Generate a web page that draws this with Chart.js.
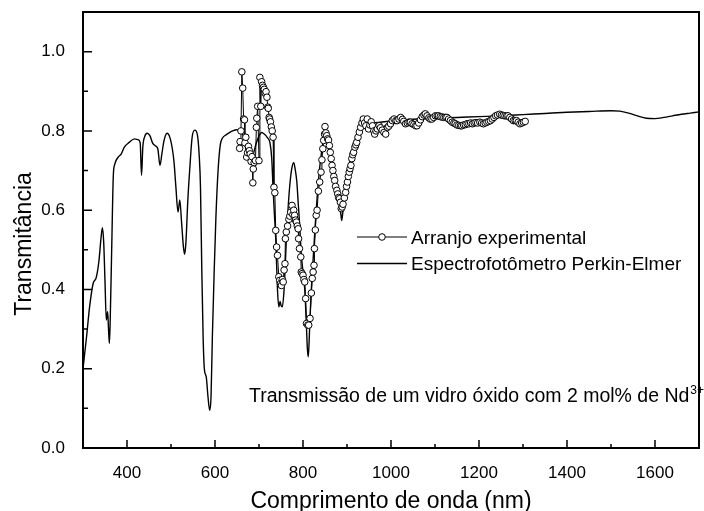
<!DOCTYPE html>
<html>
<head>
<meta charset="utf-8">
<script src="https://cdn.jsdelivr.net/npm/chart.js@4"></script>
<style>
  html, body { margin: 0; padding: 0; background: #fff; }
  #wrap { width: 704px; height: 511px; position: relative; }
</style>
</head>
<body>
<div id="wrap"><canvas id="chart"></canvas></div>
<script>
// Espectrofotômetro Perkin-Elmer (nm, transmitância)
const peNm = [300,308,315,323,330,336,341,344,347,350,353,356,358,360,362,365,369,372,375,381,387,394,405,417,425,430,433,436,440,446,452,458,465,470,475,479,484,491,497,503,507,511,516,520,524,528,531,534,538,543,548,554,560,564,567,570,573,576,580,584,588,591,594,598,602,607,612,617,625,632,640,650,657,663,667,672,677,683,688,694,700,706,712,719,725,729,732,735,738,742,745,748,750,753,757,760,763,767,771,775,779,782,786,789,792,796,800,804,807,810,812,815,818,822,826,830,834,838,842,846,849,853,857,862,866,871,875,879,883,886,888,891,894,898,902,906,910,915,920,926,932,940,950,960,975,1000,1030,1060,1100,1150,1200,1250,1300,1350,1400,1450,1500,1520,1540,1560,1580,1600,1620,1640,1660,1680,1700];
const peT = [0.20,0.28,0.356,0.415,0.43,0.47,0.53,0.556,0.52,0.42,0.323,0.344,0.30,0.264,0.33,0.49,0.69,0.715,0.725,0.735,0.742,0.759,0.771,0.78,0.778,0.77,0.688,0.76,0.785,0.794,0.788,0.77,0.762,0.755,0.713,0.74,0.775,0.794,0.785,0.755,0.72,0.66,0.595,0.626,0.57,0.51,0.489,0.52,0.62,0.71,0.784,0.802,0.79,0.74,0.658,0.45,0.28,0.197,0.18,0.13,0.095,0.13,0.28,0.44,0.58,0.70,0.765,0.782,0.79,0.795,0.80,0.803,0.80,0.79,0.77,0.745,0.73,0.725,0.745,0.77,0.787,0.796,0.792,0.783,0.77,0.73,0.654,0.59,0.528,0.40,0.356,0.37,0.36,0.356,0.40,0.47,0.545,0.62,0.675,0.708,0.72,0.705,0.671,0.62,0.57,0.49,0.444,0.40,0.33,0.25,0.23,0.30,0.38,0.457,0.53,0.60,0.66,0.708,0.745,0.775,0.784,0.775,0.76,0.738,0.71,0.675,0.65,0.633,0.61,0.59,0.574,0.60,0.625,0.66,0.695,0.72,0.745,0.765,0.784,0.80,0.81,0.815,0.818,0.82,0.822,0.825,0.828,0.83,0.832,0.834,0.836,0.838,0.841,0.844,0.847,0.849,0.851,0.85,0.845,0.838,0.832,0.831,0.834,0.838,0.842,0.845,0.848];

// Arranjo experimental (nm, transmitância)
const exNm = [656,657,659,661,663,665,667,668,670,672,674,676,678,680,682,684,686,687,689,692,694,695,697,700,702,704,706,708,710,712,714,716,718,720,721,723,724,726,728,730,732,734,736,738,740,742,745,747,749,751,753,755,757,759,760,762,765,768,770,772,775,777,779,781,783,785,787,789,790,792,795,796,798,800,802,804,806,808,811,813,816,819,821,823,825,826,828,830,832,835,838,841,843,845,847,849,850,852,854,856,858,860,862,864,866,868,870,872,874,877,879,881,883,885,887,889,891,894,897,899,901,903,905,907,909,911,913,915,918,920,922,925,928,931,934,937,940,943,946,949,952,955,958,961,963,966,969,973,976,980,984,988,992,995,999,1003,1007,1011,1014,1018,1022,1026,1029,1033,1037,1041,1044,1048,1052,1056,1059,1063,1067,1071,1075,1078,1082,1086,1089,1093,1097,1101,1105,1108,1112,1116,1120,1124,1127,1131,1135,1139,1143,1146,1150,1154,1158,1161,1165,1169,1173,1177,1181,1185,1189,1193,1197,1202,1206,1210,1214,1218,1222,1226,1230,1234,1238,1242,1247,1251,1255,1259,1263,1266,1270,1274,1278,1282,1285,1289,1293,1297,1301,1305];
const exT = [0.756,0.773,0.80,0.949,0.908,0.83,0.828,0.77,0.784,0.734,0.745,0.761,0.75,0.742,0.723,0.735,0.669,0.704,0.72,0.725,0.809,0.832,0.862,0.725,0.935,0.862,0.924,0.915,0.91,0.905,0.895,0.899,0.885,0.86,0.857,0.834,0.83,0.823,0.81,0.80,0.784,0.658,0.644,0.549,0.507,0.486,0.432,0.423,0.415,0.41,0.425,0.419,0.449,0.465,0.528,0.545,0.56,0.577,0.585,0.595,0.612,0.589,0.60,0.587,0.575,0.57,0.56,0.553,0.528,0.503,0.482,0.444,0.44,0.436,0.425,0.419,0.377,0.314,0.31,0.31,0.327,0.391,0.428,0.444,0.461,0.503,0.55,0.587,0.60,0.648,0.671,0.696,0.727,0.755,0.776,0.792,0.811,0.795,0.788,0.78,0.777,0.763,0.746,0.73,0.713,0.70,0.685,0.675,0.66,0.65,0.641,0.632,0.629,0.62,0.604,0.608,0.615,0.631,0.645,0.66,0.671,0.685,0.696,0.705,0.713,0.73,0.74,0.746,0.759,0.765,0.771,0.784,0.797,0.809,0.82,0.83,0.82,0.813,0.83,0.805,0.815,0.823,0.813,0.80,0.792,0.80,0.805,0.813,0.808,0.802,0.796,0.792,0.809,0.812,0.818,0.826,0.83,0.826,0.826,0.83,0.834,0.829,0.824,0.818,0.82,0.822,0.822,0.818,0.816,0.813,0.813,0.82,0.828,0.836,0.84,0.843,0.838,0.833,0.83,0.83,0.834,0.838,0.838,0.838,0.836,0.835,0.834,0.834,0.834,0.83,0.826,0.822,0.82,0.818,0.815,0.814,0.813,0.813,0.815,0.816,0.818,0.818,0.82,0.818,0.82,0.821,0.82,0.822,0.82,0.818,0.82,0.822,0.824,0.826,0.83,0.834,0.838,0.84,0.842,0.84,0.839,0.838,0.838,0.838,0.834,0.83,0.826,0.826,0.826,0.822,0.818,0.82,0.822,0.824];

const xTicks = [400, 600, 800, 1000, 1200, 1400, 1600];
const xMinor = [500, 700, 900, 1100, 1300, 1500];
const yTicks = [0, 0.2, 0.4, 0.6, 0.8, 1.0];
const yMinor = [0.1, 0.3, 0.5, 0.7, 0.9];

const FONT = "'Liberation Sans', Arial, sans-serif";
const toXY = (xs, ys) => xs.map((x, i) => ({ x: x, y: ys[i] }));

// frame, inward ticks, axis titles, legend and note
const decor = {
  id: 'decor',
  afterDraw(chart) {
    const ctx = chart.ctx;
    const a = chart.chartArea;
    const sx = chart.scales.x, sy = chart.scales.y;
    ctx.save();
    ctx.strokeStyle = '#000';
    ctx.lineWidth = 2;
    ctx.strokeRect(a.left, a.top, a.right - a.left, a.bottom - a.top);

    ctx.lineWidth = 1.5;
    ctx.beginPath();
    xTicks.forEach(v => { const p = sx.getPixelForValue(v); ctx.moveTo(p, a.bottom); ctx.lineTo(p, a.bottom - 8); });
    xMinor.forEach(v => { const p = sx.getPixelForValue(v); ctx.moveTo(p, a.bottom); ctx.lineTo(p, a.bottom - 4); });
    yTicks.forEach(v => { const p = sy.getPixelForValue(v); ctx.moveTo(a.left, p); ctx.lineTo(a.left + 9, p); });
    yMinor.forEach(v => { const p = sy.getPixelForValue(v); ctx.moveTo(a.left, p); ctx.lineTo(a.left + 5, p); });
    ctx.stroke();

    ctx.fillStyle = '#000';
    ctx.font = '23px ' + FONT;
    ctx.textAlign = 'center';
    ctx.textBaseline = 'alphabetic';
    ctx.fillText('Comprimento de onda (nm)', (a.left + a.right) / 2, 508);
    ctx.save();
    ctx.translate(31, 244);
    ctx.rotate(-Math.PI / 2);
    ctx.fillText('Transmitância', 0, 0);
    ctx.restore();

    // legend
    const ds = chart.data.datasets;
    ctx.textAlign = 'left';
    ctx.font = '19px ' + FONT;
    ctx.lineWidth = 1;
    ctx.beginPath();
    ctx.moveTo(357, 237); ctx.lineTo(407, 237);
    ctx.stroke();
    ctx.beginPath();
    ctx.arc(382, 237, 3.3, 0, Math.PI * 2);
    ctx.fillStyle = '#fff'; ctx.fill(); ctx.stroke();
    ctx.fillStyle = '#000';
    ctx.fillText(ds[0].label, 411, 243.5);
    ctx.lineWidth = 1.4;
    ctx.beginPath();
    ctx.moveTo(357, 263.5); ctx.lineTo(407, 263.5);
    ctx.stroke();
    ctx.fillText(ds[1].label, 411, 270);

    // note
    const note = 'Transmissão de um vidro óxido com 2 mol% de Nd';
    ctx.font = '19.5px ' + FONT;
    ctx.fillText(note, 249, 402);
    const w = ctx.measureText(note).width;
    ctx.font = '12px ' + FONT;
    ctx.fillText('3+', 249 + w + 1, 394);
    ctx.restore();
  }
};

new Chart(document.getElementById('chart'), {
  type: 'scatter',
  data: {
    datasets: [
      {
        label: 'Arranjo experimental',
        data: toXY(exNm, exT),
        showLine: true,
        borderColor: '#000',
        borderWidth: 1,
        pointRadius: 3.3,
        pointBackgroundColor: '#fff',
        pointBorderColor: '#000',
        pointBorderWidth: 1,
        order: 0
      },
      {
        label: 'Espectrofotômetro Perkin-Elmer',
        data: toXY(peNm, peT),
        showLine: true,
        borderColor: '#000',
        borderWidth: 1.4,
        pointRadius: 0,
        cubicInterpolationMode: 'monotone',
        order: 1
      }
    ]
  },
  options: {
    responsive: true,
    maintainAspectRatio: false,
    animation: false,
    layout: { padding: { top: 12, right: 1, left: 0, bottom: 0 } },
    plugins: { legend: { display: false }, tooltip: { enabled: false } },
    scales: {
      x: {
        type: 'linear',
        min: 300,
        max: 1700,
        grid: { display: false },
        border: { display: false },
        afterFit: s => { s.height = 63; s.paddingLeft = 0; s.paddingRight = 0; },
        afterBuildTicks: s => { s.ticks = xTicks.map(v => ({ value: v })); },
        ticks: { color: '#000', font: { family: FONT, size: 17 }, padding: 7, maxRotation: 0, callback: v => String(v) }
      },
      y: {
        min: 0,
        max: 1.1,
        grid: { display: false },
        border: { display: false },
        afterFit: s => { s.width = 83; s.paddingTop = 0; s.paddingBottom = 0; },
        afterBuildTicks: s => { s.ticks = yTicks.map(v => ({ value: v })); },
        ticks: { color: '#000', font: { family: FONT, size: 17 }, padding: 10, callback: v => v.toFixed(1) }
      }
    }
  },
  plugins: [decor]
});
</script>
</body>
</html>
